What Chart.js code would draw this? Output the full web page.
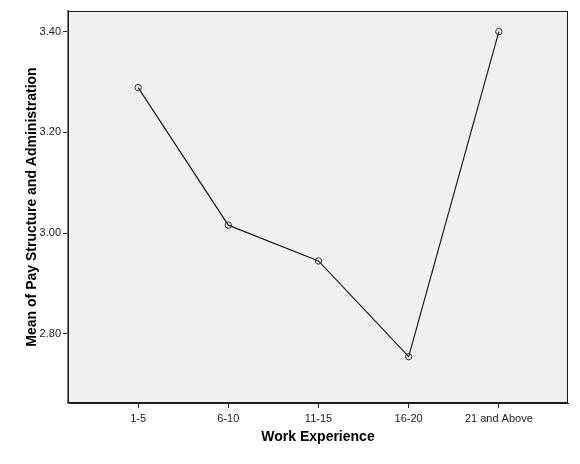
<!DOCTYPE html>
<html>
<head>
<meta charset="utf-8">
<script src="https://cdn.jsdelivr.net/npm/chart.js@4/dist/chart.umd.min.js"></script>
<style>
  html, body { margin: 0; padding: 0; background: #fff; }
  #wrap { width: 580px; height: 464px; }
</style>
</head>
<body>
<div id="wrap"><canvas id="chart" width="580" height="464"></canvas></div>
<script>
const categories = ['1-5', '6-10', '11-15', '16-20', '21 and Above'];
const means = [3.289, 3.016, 2.945, 2.755, 3.40];
const yTicks = [2.80, 3.00, 3.20, 3.40];

const FONT = "'Liberation Sans', Arial, sans-serif";

// gray plot background + black frame, like the SPSS output
const plotFrame = {
  id: 'plotFrame',
  beforeDraw(chart) {
    const { ctx, chartArea: a } = chart;
    ctx.save();
    ctx.fillStyle = '#f0f0f0';
    ctx.fillRect(a.left, a.top, a.right - a.left, a.bottom - a.top);
    ctx.restore();
  },
  afterDraw(chart) {
    const { ctx, chartArea: a } = chart;
    ctx.save();
    ctx.strokeStyle = '#1a1a1a';
    ctx.lineWidth = 1;
    ctx.strokeRect(a.left + 0.5, a.top + 0.5, a.right - a.left - 1, a.bottom - a.top - 1);
    ctx.restore();
  }
};

const ctx = document.getElementById('chart').getContext('2d');
new Chart(ctx, {
  type: 'scatter',
  data: {
    datasets: [{
      data: means.map((v, i) => ({ x: i, y: v })),
      showLine: true,
      borderColor: '#1e1e1e',
      borderWidth: 1.2,
      pointRadius: 3.2,
      pointBorderWidth: 1,
      pointBorderColor: '#333',
      pointBackgroundColor: 'rgba(0,0,0,0)'
    }]
  },
  options: {
    responsive: false,
    animation: false,
    layout: { padding: { top: 11, right: 12, left: 0, bottom: 0 } },
    plugins: { legend: { display: false }, tooltip: { enabled: false } },
    scales: {
      x: {
        type: 'linear',
        min: -0.778,
        max: 4.767,
        afterBuildTicks: s => { s.ticks = categories.map((c, i) => ({ value: i })); },
        afterFit: s => { s.height = 61; },
        ticks: {
          callback: v => categories[v],
          color: '#222',
          font: { family: FONT, size: 11 },
          padding: 4,
          maxRotation: 0
        },
        grid: { drawOnChartArea: false, tickLength: 5, color: '#222' },
        border: { color: '#222' },
        title: {
          display: true,
          text: 'Work Experience',
          color: '#000',
          font: { family: FONT, size: 14, weight: 'bold' },
          padding: { top: 0, bottom: 18.6 }
        }
      },
      y: {
        min: 2.663,
        max: 3.441,
        afterBuildTicks: s => { s.ticks = yTicks.map(v => ({ value: v })); },
        afterFit: s => { s.width = 68; },
        ticks: {
          callback: v => v.toFixed(2),
          color: '#222',
          font: { family: FONT, size: 11 },
          padding: 2
        },
        grid: { drawOnChartArea: false, tickLength: 5, color: '#222' },
        border: { color: '#777', width: 2 },
        title: {
          display: true,
          text: 'Mean of Pay Structure and Administration',
          color: '#000',
          font: { family: FONT, size: 14, weight: 'bold' },
          padding: { top: 23.6, bottom: 0 }
        }
      }
    }
  },
  plugins: [plotFrame]
});
</script>
</body>
</html>
